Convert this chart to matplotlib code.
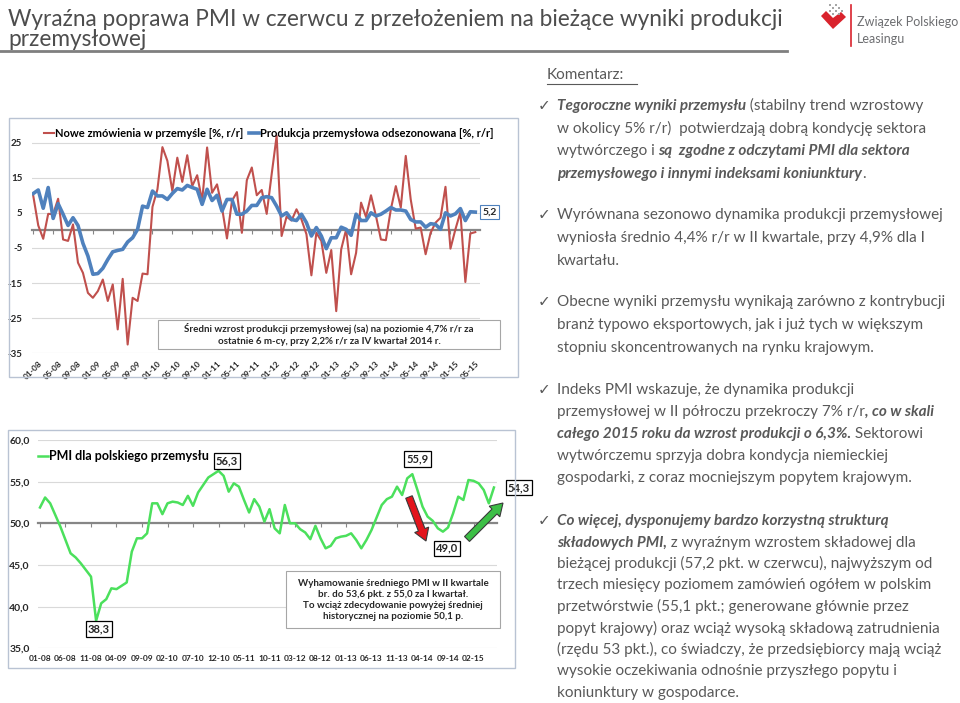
import matplotlib
matplotlib.use('Agg')
import matplotlib.pyplot as plt
from matplotlib.patches import Rectangle, FancyArrow, Polygon
from matplotlib.lines import Line2D
from matplotlib.transforms import IdentityTransform, blended_transform_factory

plt.rcParams['font.family'] = ['Lato', 'DejaVu Sans']

W, H = 960, 703

# --- top chart: new orders vs seasonally adjusted production, 01-08 .. 06-15 ---
orders = [9.8, 1.4, -2.4, 4.7, 4.6, 9.0, -2.6, -3.0, 1.7, -9.2,
          -12.1, -17.8, -19.2, -17.3, -14.0, -20.1, -15.4, -28.2, -13.8, -32.5,
          -19.2, -20.1, -12.3, -12.5, 6.7, 11.7, 23.7, 19.8, 11.2, 20.7,
          13.8, 21.4, 12.6, 15.7, 8.4, 23.6, 10.7, 13.1, 6.5, -2.3,
          8.4, 10.9, -0.7, 14.3, 17.9, 10.0, 11.5, 4.7, 16.0, 26.9,
          -1.6, 3.9, 2.8, 6.0, 3.1, -1.1, -12.8, -0.7, -3.0, -12.1,
          -5.6, -23.0, -5.4, 0.3, -12.5, -6.4, 7.9, 3.8, 10.0, 4.1,
          -2.6, -2.8, 6.0, 12.6, 6.5, 21.2, 8.8, 0.5, 0.8, -6.8,
          -0.7, 2.2, 3.6, 12.4, -5.2, 0.3, 5.2, -14.7, -0.9, -0.5]
production = [10.5, 11.5, 6.3, 12.2, 3.4, 7.6, 4.6, 1.4, 3.6, 1.4,
              -3.7, -7.3, -12.5, -12.3, -10.8, -8.3, -6.1, -5.7, -5.4, -3.3,
              -2.1, 0.3, 6.9, 6.5, 11.2, 9.8, 9.8, 8.8, 10.5, 11.9,
              11.5, 12.8, 12.2, 11.7, 7.4, 11.7, 8.5, 10.0, 5.5, 8.8,
              8.8, 4.6, 4.6, 5.5, 7.1, 7.1, 9.3, 9.6, 9.3, 6.9,
              4.1, 5.0, 3.1, 2.8, 4.6, 2.2, -1.6, 0.8, -1.6, -5.2,
              -2.1, -2.1, 0.9, 0.3, -1.4, 4.6, 2.8, 2.8, 5.0, 4.1,
              4.6, 5.5, 6.5, 5.8, 5.8, 5.5, 3.1, 2.4, 2.4, 0.9,
              1.9, 1.7, 0.3, 5.0, 4.1, 4.7, 6.2, 2.8, 5.3, 5.2]
top_ticks = ['01-08', '05-08', '09-08', '01-09', '05-09', '09-09', '01-10', '05-10',
             '09-10', '01-11', '05-11', '09-11', '01-12', '05-12', '09-12', '01-13',
             '05-13', '09-13', '01-14', '05-14', '09-14', '01-15', '05-15']

# --- bottom chart: PMI, 01-08 .. 06-15 ---
pmi = [51.9, 53.1, 52.4, 51.0, 49.6, 48.0, 46.4, 45.9, 45.2, 44.4,
       43.6, 38.3, 40.4, 40.9, 42.2, 42.1, 42.5, 42.9, 46.6, 48.2,
       48.2, 48.8, 52.4, 52.4, 51.1, 52.4, 52.6, 52.5, 52.2, 53.3,
       52.1, 53.7, 54.6, 55.5, 55.9, 56.3, 55.7, 53.8, 54.8, 54.4,
       52.8, 51.3, 52.9, 52.0, 50.2, 51.7, 49.4, 48.8, 52.2, 50.0,
       50.0, 49.3, 48.9, 48.1, 49.7, 48.2, 47.0, 47.3, 48.2, 48.4,
       48.5, 48.8, 48.0, 47.0, 48.0, 49.2, 50.7, 52.2, 52.9, 53.2,
       54.4, 53.4, 55.4, 55.9, 54.0, 52.0, 50.8, 50.3, 49.4, 49.0,
       49.5, 51.2, 53.2, 52.8, 55.2, 55.1, 54.8, 54.0, 52.4, 54.3]
pmi_ticks = ['01-08', '06-08', '11-08', '04-09', '09-09', '02-10', '07-10', '12-10', '05-11',
             '10-11', '03-12', '08-12', '01-13', '06-13', '11-13', '04-14', '09-14', '02-15']
pmi_marked = [11, 35, 73, 79, 89]

RED = '#c0504d'
BLUE = '#4f81bd'
GREEN = '#4be05c'
GRID = '#d9d9d9'
AXIS = '#868686'
TXT = '#595959'
DARK = '#262626'


def fmt(v):
    return f'{v:.1f}'.replace('.', ',')


fig = plt.figure(figsize=(9.6, 7.03), dpi=100)
px = IdentityTransform()


def T(x, y, s, **kw):
    # text placed in pixel coords measured from the top-left corner
    return fig.text(x, H - y, s, transform=px, **kw)


def hline(x0, x1, y, **kw):
    fig.add_artist(Line2D([x0, x1], [H - y, H - y], transform=px, **kw))


# ---------------- header ----------------
T(8, 19, 'Wyraźna poprawa PMI w czerwcu z przełożeniem na bieżące wyniki produkcji',
  fontsize=16.3, color='#4d4d4d', va='center')
T(8, 40, 'przemysłowej', fontsize=16.3, color='#4d4d4d', va='center')
hline(0, 787, 51, color='#7f7f7f', lw=2)

# logo
fig.add_artist(Polygon([(821, H - 16), (826, H - 11), (833, H - 18), (841, H - 12),
                        (846, H - 17), (833, H - 29)], closed=True,
                       transform=px, fc='#d9232d', ec='none'))
for dx, dy in [(0, 0), (3, 3), (6, 0), (3, -3), (9, 3), (6, 6), (0, 6), (9, -3), (12, 0)]:
    fig.add_artist(Rectangle((829 + dx, H - 12 + dy), 2, 2, transform=px,
                             fc='#a6a6a6', ec='none'))
fig.add_artist(Line2D([851, 851], [H - 5, H - 46], transform=px, color='#d9232d', lw=1.2))
T(857, 22, 'Związek Polskiego', fontsize=9, color='#6d6e71', va='center')
T(857, 39, 'Leasingu', fontsize=9, color='#6d6e71', va='center')

# comment header
T(547, 75, 'Komentarz:', fontsize=11, color=TXT, va='center')
hline(547, 637, 84, color=TXT, lw=0.8)

# ---------------- top chart ----------------
fig.add_artist(Rectangle((9, H - 377), 509, 259, transform=px, fill=False,
                         ec='#b9c3d3', lw=1))
ax1 = fig.add_axes([32 / W, 1 - 353.3 / H, 448 / W, 228.3 / H])
n = len(production)
xs = list(range(n))
ax1.plot(xs, orders, color=RED, lw=1.5, zorder=3)
ax1.plot(xs, production, color=BLUE, lw=2.6, zorder=4)
ax1.set_xlim(-0.26, 89.95)
ax1.set_ylim(-35, 30)
yt = list(range(-35, 26, 10))
ax1.set_yticks(yt, [str(v) for v in yt], fontweight='bold', fontsize=7, color=DARK)
ax1.grid(axis='y', color=GRID, lw=0.8)
ax1.set_axisbelow(True)
for s in ['top', 'right', 'left']:
    ax1.spines[s].set_visible(False)
ax1.spines['bottom'].set_position(('data', 0))
ax1.spines['bottom'].set_color(AXIS)
ax1.spines['bottom'].set_linewidth(1.6)
ax1.set_xticks(range(0, n, 4))
ax1.tick_params(axis='x', length=3, color=AXIS, labelbottom=False)
ax1.tick_params(axis='y', length=0, pad=7)
bt = blended_transform_factory(ax1.transData, ax1.transAxes)
for i, lab in zip(range(0, n, 4), top_ticks):
    ax1.text(i + 1.0, -0.03, lab, transform=bt, rotation=45, ha='right', va='top',
             rotation_mode='anchor', fontsize=6, fontweight='bold', color=DARK)

ax1.legend([Line2D([], [], color=RED, lw=1.5), Line2D([], [], color=BLUE, lw=2.6)],
           ['Nowe zmówienia w przemyśle [%, r/r]', 'Produkcja przemysłowa odsezonowana [%, r/r]'],
           loc='upper left', bbox_to_anchor=(44, H - 128), bbox_transform=px, ncol=2,
           frameon=False, handlelength=0.9, handletextpad=0.1, columnspacing=0.5,
           borderpad=0, borderaxespad=0, prop={'weight': 'bold', 'size': 8})

ax1.annotate(fmt(production[-1]), xy=(n - 1, production[-1]), xytext=(5, 0),
             textcoords='offset points', ha='left', va='center', fontsize=7.5,
             fontweight='bold', color=DARK,
             bbox=dict(boxstyle='square,pad=0.25', fc='white', ec=BLUE, lw=0.8))

fig.add_artist(Rectangle((158, H - 349), 342, 29, transform=px, fc='white',
                         ec='#a6a6a6', lw=0.8))
T(329, 334.5, 'Średni wzrost produkcji przemysłowej (sa) na poziomie 4,7% r/r za\n'
  'ostatnie 6 m-cy, przy 2,2% r/r za IV kwartał 2014 r.', ha='center', va='center',
  multialignment='center', fontsize=7, fontweight='bold', color=DARK, linespacing=1.3)

# ---------------- bottom chart ----------------
fig.add_artist(Rectangle((8, H - 668), 507, 238, transform=px, fill=False,
                         ec='#b9c3d3', lw=1))
ax2 = fig.add_axes([38 / W, 1 - 648.3 / H, 459 / W, 208.3 / H])
m = len(pmi)
xp = list(range(m))
ax2.plot(xp, pmi, color=GREEN, lw=1.8, zorder=3)
ax2.set_xlim(-0.39, 89.6)
ax2.set_ylim(35, 60)
yt2 = list(range(35, 61, 5))
ax2.set_yticks(yt2, [fmt(v) for v in yt2], fontweight='bold', fontsize=7.5, color=DARK)
ax2.grid(axis='y', color=GRID, lw=0.8)
ax2.set_axisbelow(True)
for s in ['top', 'right', 'left']:
    ax2.spines[s].set_visible(False)
ax2.spines['bottom'].set_position(('data', 50))
ax2.spines['bottom'].set_color(AXIS)
ax2.spines['bottom'].set_linewidth(1.6)
ax2.set_xticks(range(0, m, 5))
ax2.tick_params(axis='x', length=3, color=AXIS, labelbottom=False)
ax2.tick_params(axis='y', length=0, pad=6)
bt2 = blended_transform_factory(ax2.transData, ax2.transAxes)
for i, lab in zip(range(0, m, 5), pmi_ticks):
    ax2.text(i, -0.048, lab, transform=bt2, ha='center', va='center',
             fontsize=6, fontweight='bold', color=DARK)

ax2.legend([Line2D([], [], color=GREEN, lw=1.8)], ['PMI dla polskiego przemysłu'],
           loc='upper left', bbox_to_anchor=(38, H - 450), bbox_transform=px,
           frameon=False, handlelength=0.8, handletextpad=0.1, borderpad=0,
           borderaxespad=0, prop={'weight': 'bold', 'size': 9})

offsets = {11: (2, -6), 35: (6, 7), 73: (3.6, 10.8), 79: (3, -12), 89: (10, 0)}
for i in pmi_marked:
    ha = 'left' if i == m - 1 else 'center'
    ax2.annotate(fmt(pmi[i]), xy=(i, pmi[i]), xytext=offsets[i], textcoords='offset points',
                 ha=ha, va='center', fontsize=8, fontweight='bold', color=DARK,
                 bbox=dict(boxstyle='square,pad=0.2', fc='white', ec='black', lw=0.9))

fig.add_artist(FancyArrow(409, H - 497, 17, -44, width=7, head_width=15, head_length=12,
                          length_includes_head=True, transform=px, fc='#e3141c',
                          ec='#3a3a3a', lw=0.8))
fig.add_artist(FancyArrow(467, H - 539, 36, 36, width=7, head_width=15, head_length=12,
                          length_includes_head=True, transform=px, fc='#3cbf46',
                          ec='#3a3a3a', lw=0.8))

fig.add_artist(Rectangle((286, H - 628), 214, 57, transform=px, fc='white',
                         ec='#a6a6a6', lw=0.8))
T(393, 600, 'Wyhamowanie średniego PMI w II kwartale\nbr. do 53,6 pkt. z 55,0 za I kwartał.\n'
  'To wciąż zdecydowanie powyżej średniej\nhistorycznej na poziomie 50,1 p.',
  ha='center', va='center', multialignment='center', fontsize=7, fontweight='bold',
  color=DARK, linespacing=1.3)

# ---------------- commentary ----------------
r = fig.canvas.get_renderer()
N = {'fontweight': 'normal', 'fontstyle': 'normal'}
BI = {'fontweight': 'bold', 'fontstyle': 'italic'}
SIZE = 11


def text_w(s, style):
    a = fig.text(0, 0, s + '|', fontsize=SIZE, **style)
    b = fig.text(0, 0, '|', fontsize=SIZE, **style)
    w = a.get_window_extent(r).width - b.get_window_extent(r).width
    a.remove()
    b.remove()
    return w


def para(y, lines, step=22.3):
    T(538, y + 5, '✓', fontsize=11, color=TXT, va='baseline', family='DejaVu Sans')
    for k, line in enumerate(lines):
        if isinstance(line, str):
            line = [(line, N)]
        x = 557
        for s, st in line:
            T(x, y + 5 + k * step, s, fontsize=SIZE, color=TXT, va='baseline', **st)
            x += text_w(s, st)


para(105, [[('Tegoroczne wyniki przemysłu', BI), (' (stabilny trend wzrostowy', N)],
           'w okolicy 5% r/r)  potwierdzają dobrą kondycję sektora',
           [('wytwórczego i ', N), ('są  zgodne z odczytami PMI dla sektora', BI)],
           [('przemysłowego i innymi indeksami koniunktury', BI), ('.', N)]], step=22.7)
para(214, ['Wyrównana sezonowo dynamika produkcji przemysłowej',
           'wyniosła średnio 4,4% r/r w II kwartale, przy 4,9% dla I',
           'kwartału.'], step=23)
para(301, ['Obecne wyniki przemysłu wynikają zarówno z kontrybucji',
           'branż typowo eksportowych, jak i już tych w większym',
           'stopniu skoncentrowanych na rynku krajowym.'], step=23)
para(389, ['Indeks PMI wskazuje, że dynamika produkcji',
           [('przemysłowej w II półroczu przekroczy 7% r/r', N), (', co w skali', BI)],
           [('całego 2015 roku da wzrost produkcji o 6,3%.', BI), (' Sektorowi', N)],
           'wytwórczemu sprzyja dobra kondycja niemieckiej',
           'gospodarki, z coraz mocniejszym popytem krajowym.'], step=22)
para(520, [[('Co więcej, dysponujemy bardzo korzystną strukturą', BI)],
           [('składowych PMI,', BI), (' z wyraźnym wzrostem składowej dla', N)],
           'bieżącej produkcji (57,2 pkt. w czerwcu), najwyższym od',
           'trzech miesięcy poziomem zamówień ogółem w polskim',
           'przetwórstwie (55,1 pkt.; generowane głównie przez',
           'popyt krajowy) oraz wciąż wysoką składową zatrudnienia',
           '(rzędu 53 pkt.), co świadczy, że przedsiębiorcy mają wciąż',
           'wysokie oczekiwania odnośnie przyszłego popytu i',
           'koniunktury w gospodarce.'], step=21.5)

fig.savefig('out.png', dpi=100)
